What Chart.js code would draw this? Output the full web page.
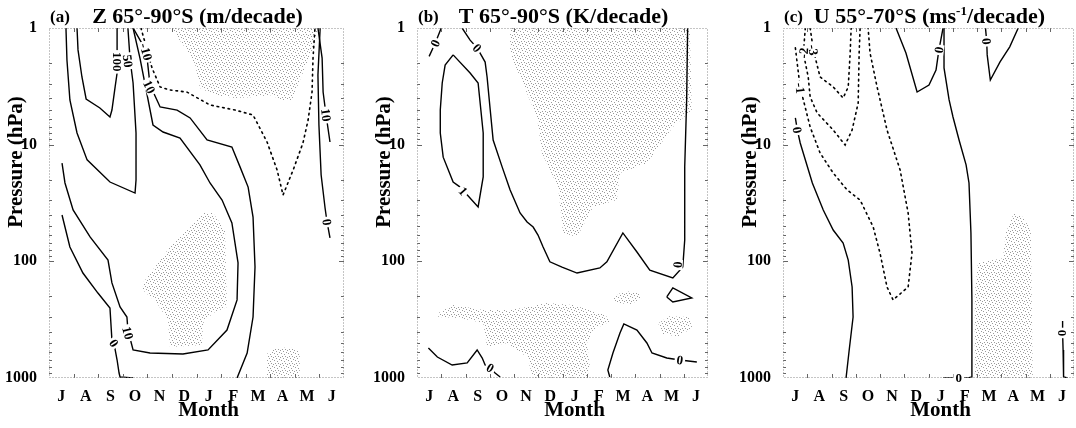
<!DOCTYPE html>
<html>
<head>
<meta charset="utf-8">
<script src="https://cdn.jsdelivr.net/npm/chart.js@4.4.1/dist/chart.umd.min.js"></script>
<style>
  body { margin: 0; background: #fff; }
  .panel { position: absolute; top: 0; height: 428px; }
</style>
</head>
<body>
<div class="panel" style="left:0"><canvas id="chartA" width="358" height="428"></canvas></div>
<div class="panel" style="left:358px"><canvas id="chartB" width="358" height="428"></canvas></div>
<div class="panel" style="left:716px"><canvas id="chartC" width="360" height="428"></canvas></div>
<script>
const months = ['J', 'A', 'S', 'O', 'N', 'D', 'J', 'F', 'M', 'A', 'M', 'J'];
const pressureTicks = [1, 10, 100, 1000];

// contours as [month position, hPa]
// (a) Z 65-90S
const zPos100 = [[1.14,1],[1.18,1.54],[1.34,2.63],[1.51,4.06],[2.07,4.85],[2.48,5.79],[2.56,5.05],[2.69,3.2],[2.77,2.43],[2.77,1.77],[2.77,1]];
const zPos50 = [[0.69,1],[0.73,1.88],[0.85,4.14],[1.14,7.94],[1.55,13.5],[2.48,20.9],[3.5,26],[3.54,20.1],[3.54,7.94],[3.42,2.96],[3.3,1.88],[3.21,1]];
const zPos10Outer = [[3.42,1],[3.82,1.4],[3.99,1.81],[4.11,3.08],[4.52,4.75],[5.21,5.05],[5.74,5.9],[6.43,9.12],[7.44,10.47],[7.77,15.5],[8.1,23.1],[8.3,41.7],[8.38,112],[8.3,300],[8.06,611],[7.65,1000]];
const zPos10Inner = [[3.42,1],[3.7,1.81],[4.23,6.78],[4.64,7.79],[5.33,8.77],[6.14,14.9],[6.55,21.3],[7.04,29.8],[7.44,46.9],[7.69,103],[7.65,214],[7.24,388],[6.47,575],[5.45,623],[4.11,611],[3.42,575],[3.21,388],[3.17,300],[2.89,246],[2.56,153],[2.4,97.5],[1.67,61.8],[0.98,36.3],[0.65,21.3],[0.53,14.4]];
const zLeft0 = [[0.53,40.1],[0.85,75.4],[1.38,126],[1.99,187],[2.48,251],[2.56,472],[2.64,501],[2.77,701],[2.85,906],[2.89,980],[3.42,1000]];
const zRight10 = [[10.94,1],[11.11,1.81],[11.15,3.54],[11.27,5.57],[11.43,9.49]];
const zRight0 = [[11.03,1],[10.94,2.53],[10.98,6.78],[11.07,18.2],[11.23,34.9],[11.31,46],[11.43,63]];
const zNeg10 = [[3.74,1],[3.99,1.54],[4.19,2.2],[4.52,3.2],[4.92,3.4],[5.61,3.54],[6.55,4.57],[7.57,5.05],[8.3,5.57],[8.87,9.49],[9.28,16.5],[9.52,27],[9.93,16.5],[10.33,9.68],[10.54,6.15],[10.7,3.54],[10.74,1.81],[10.82,1]];
const zStippleTop = [[5,1],[10.94,1],[10.86,1.27],[10.54,1.88],[10.21,2.79],[9.88,4.14],[9.52,4.14],[8.98,3.75],[8.38,3.9],[7.57,3.98],[6.75,3.75],[6.14,3.27],[5.94,2.04],[5.61,1.54],[5.25,1.22]];
const zStippleMid = [[3.82,153],[4.92,75.4],[5.61,53.9],[6.27,38.5],[6.67,38.5],[7.16,53.9],[7.24,246],[6.67,277],[6.27,338],[6.22,521],[4.92,542],[4.84,318],[4.39,228],[3.82,176]];
const zStippleLow = [[8.87,620],[9.2,560],[9.8,545],[10.2,600],[10.2,1000],[8.87,1000]];
const zLabels = [
  [zPos100, 2.77, 1.95, '100'], [zPos50, 3.21, 1.92, '50'], [zNeg10, 3.95, 1.6, '-10'],
  [zPos10Outer, 4.08, 3.2, '10'], [zPos10Inner, 3.21, 411, '10'], [zLeft0, 2.64, 501, '0'],
  [zRight10, 11.27, 5.57, '10'], [zRight0, 11.31, 46, '0']
];

// (b) T 65-90S
const tTop0 = [[0.5,1.75],[0.75,1.35],[1,1]];
const tMain0 = [[1.86,1],[2.19,1.27],[2.48,1.48],[2.81,1.96],[2.89,2.63],[3.02,5.05],[3.14,9.12],[3.51,15.5],[3.84,24.5],[4.25,38.5],[4.54,46],[4.79,50.8],[4.99,59.5],[5.2,75.4],[5.48,101],[5.98,112],[6.6,126],[7.54,114],[7.83,101],[8.49,57.1],[9.07,83.2],[9.6,119],[10.55,139],[10.96,112],[11.04,65.6],[11.04,15.5],[11.12,4.14],[11.16,1]];
const tLoop1 = [[1.49,1.7],[1.16,2.08],[1.04,2.96],[0.96,5.05],[0.96,7.94],[1.08,12.8],[1.49,20.9],[1.78,23.1],[2.0,26],[2.52,34.2],[2.73,18.9],[2.73,7.94],[2.52,2.96],[2.19,2.43],[1.49,1.7]];
const tTriangle = [[10.3,202],[10.55,169],[11.33,206],[10.55,223],[10.3,202]];
const tLowLeft0 = [[0.47,553],[0.84,661],[1.45,774],[2.07,743],[2.48,575],[2.69,674],[2.81,774],[3.02,821],[3.22,906],[3.43,980]];
const tLowMid0 = [[7.95,980],[7.87,854],[8.08,611],[8.37,411],[8.53,344],[9.07,388],[9.48,501],[9.69,611],[10.3,674],[10.84,701],[11.54,729]];
const tStippleTop = [[3.84,1],[11.25,1],[11.33,5.05],[10.55,7.06],[9.48,14.4],[8.37,17.5],[8.24,29.8],[7.26,34.2],[6.6,61.8],[6.02,57.1],[5.82,23.1],[5.15,11.8],[4.95,5.79],[4.25,2.63],[3.84,1.64]];
const tStippleA = [[8.1,205],[8.5,180],[9.1,185],[9.3,205],[8.8,235],[8.2,225]];
const tStippleB = [[9.95,340],[10.4,295],[11.2,300],[11.35,370],[10.8,440],[10.1,420]];
const tStippleLow = [[0.88,277],[1.49,237],[2.73,261],[3.84,261],[4.54,246],[5.36,228],[6.43,237],[7.54,277],[8.08,318],[7.66,351],[7.26,388],[7.01,501],[7.13,805],[7.01,1000],[4.79,1000],[4.54,661],[3.72,501],[2.89,542],[2.73,338],[1.78,306],[0.88,300]];
const tLabels = [
  [tTop0, 0.75, 1.35, '0'], [tMain0, 2.48, 1.48, '0'], [tLoop1, 1.9, 25, '1'],
  [tMain0, 10.75, 107, '0'], [tLowLeft0, 3.02, 821, '0'], [tLowMid0, 10.84, 701, '0']
];

// (c) U 55-70S
const uNeg3 = [[1.12,1],[1.25,1.54],[1.53,2.63],[2.07,3.2],[2.48,3.98],[2.69,3.2],[2.77,1.64],[2.81,1]];
const uNeg2 = [[0.92,1],[0.84,1.64],[1.04,2.63],[1.12,3.9],[1.41,5.35],[2.07,7.48],[2.56,10.07],[2.85,7.48],[3.1,4.39],[3.14,1.64],[3.18,1]];
const uNeg1 = [[0.51,1.48],[0.71,3.27],[0.84,4.14],[1.12,7.06],[1.53,11.8],[2.07,17.5],[2.65,24.5],[3.18,29.8],[3.72,50.8],[4,84.9],[4.29,166],[4.54,214],[5.16,166],[5.32,84.9],[5.16,38.5],[4.83,16.5],[4.29,7.48],[3.88,3.2],[3.59,1.64],[3.51,1]];
const uLeft0 = [[0.51,5.9],[0.59,7.48],[0.71,9.68],[1.21,21.3],[1.66,36.3],[2.07,53.9],[2.48,69.6],[2.69,97.5],[2.85,166],[2.89,300],[2.73,575],[2.6,1000]];
const uDec0 = [[4.66,1],[5.07,1.64],[5.53,3.54],[6.02,3.08],[6.31,2.29],[6.43,1.54],[6.6,1]];
const uJan0 = [[6.64,1],[6.64,2.2],[6.85,4.14],[7.01,5.79],[7.26,9.12],[7.55,14.9],[7.67,21.3],[7.75,57.1],[7.79,214],[7.79,980],[7.63,1000],[6.6,1000]];
const uMar0 = [[8.35,1],[8.4,1.3],[8.42,1.7],[8.55,2.79],[8.95,1.95],[9.35,1.45],[9.7,1]];
const uJun0 = [[11.53,325],[11.53,411],[11.55,575],[11.57,980],[11.74,1000]];
const uStipple = [[7.91,1000],[7.91,187],[8.04,103],[9.07,94],[9.19,57],[9.52,38.5],[9.89,41.7],[10.22,54],[10.3,1000]];
const uLabels = [
  [uNeg3, 1.25, 1.54, '-3'], [uNeg2, 0.84, 1.64, '-2'], [uNeg1, 0.71, 3.27, '-1'],
  [uLeft0, 0.59, 7.48, '0'], [uDec0, 6.43, 1.54, '0'], [uJan0, 7.25, 1000, '0'],
  [uMar0, 8.4, 1.3, '0'], [uJun0, 11.53, 411, '0']
];

const serif = '"Liberation Serif", "Times New Roman", serif';

function makeStipple() {
  const c = document.createElement('canvas');
  c.width = 7; c.height = 7;
  const g = c.getContext('2d');
  g.fillStyle = '#9a9a9a';
  [[0,0],[3,1],[6,2],[1,3],[4,4],[2,6],[5,6]].forEach(([i, j]) => g.fillRect(i, j, 1, 1));
  return g.createPattern(c, 'repeat');
}
const stipple = makeStipple();

function solid(data) {
  return { data, borderColor: '#000', borderWidth: 1.4, pointRadius: 0, fill: false, order: 1 };
}
function dotted(data) {
  return { data, borderColor: '#000', borderWidth: 1.6, borderDash: [1.6, 4], borderCapStyle: 'round', pointRadius: 0, fill: false, order: 1 };
}
function shaded(data) {
  return { data, borderColor: 'rgba(0,0,0,0)', borderWidth: 0, backgroundColor: stipple, pointRadius: 0, fill: 'shape', order: 2 };
}

const framePlugin = {
  id: 'frame',
  afterDatasetsDraw(chart) {
    const { ctx, chartArea: a, scales: { x, y } } = chart;
    ctx.save();
    ctx.strokeStyle = '#666';
    ctx.lineWidth = 1;
    ctx.beginPath();
    for (let m = 1; m < 12; m++) {
      const px = Math.round(x.getPixelForValue(m)) + 0.5;
      ctx.moveTo(px, a.bottom); ctx.lineTo(px, a.bottom - 4);
      ctx.moveTo(px, a.top); ctx.lineTo(px, a.top + 4);
    }
    for (let d = 1; d < 1000; d *= 10) {
      for (let k = 1; k < 10; k++) {
        const v = d * k;
        if (v === 1) continue;
        const py = Math.round(y.getPixelForValue(v)) + 0.5;
        const len = k === 1 ? 5 : 3;
        ctx.moveTo(a.left, py); ctx.lineTo(a.left + len, py);
        ctx.moveTo(a.right, py); ctx.lineTo(a.right - len, py);
      }
    }
    ctx.stroke();
    ctx.setLineDash([1, 2]);
    ctx.strokeStyle = '#8a8a8a';
    ctx.strokeRect(a.left + 0.5, a.top + 0.5, a.right - a.left - 1, a.bottom - a.top - 1);
    ctx.restore();
  }
};

const labelPlugin = {
  id: 'contourLabels',
  afterDatasetsDraw(chart, args, opts) {
    const { ctx, scales: { x, y } } = chart;
    ctx.save();
    ctx.font = 'bold 13px ' + serif;
    ctx.textAlign = 'center';
    ctx.textBaseline = 'middle';
    (opts.items || []).forEach(([line, lx, lp, text]) => {
      const px = x.getPixelForValue(lx), py = y.getPixelForValue(lp);
      // direction of the nearest segment of its contour
      let best = Infinity, ang = 0;
      for (let i = 0; i < line.length - 1; i++) {
        const x1 = x.getPixelForValue(line[i][0]), y1 = y.getPixelForValue(line[i][1]);
        const x2 = x.getPixelForValue(line[i + 1][0]), y2 = y.getPixelForValue(line[i + 1][1]);
        const dx = x2 - x1, dy = y2 - y1;
        const l2 = dx * dx + dy * dy || 1;
        const t = Math.max(0, Math.min(1, ((px - x1) * dx + (py - y1) * dy) / l2));
        const d = Math.hypot(px - x1 - t * dx, py - y1 - t * dy);
        if (d < best) { best = d; ang = Math.atan2(dy, dx); }
      }
      if (ang > Math.PI / 2 + 0.01) ang -= Math.PI;
      if (ang <= -Math.PI / 2 + 0.01) ang += Math.PI;
      const w = ctx.measureText(text).width;
      ctx.save();
      ctx.translate(px, py);
      ctx.rotate(ang);
      ctx.fillStyle = '#fff';
      ctx.fillRect(-w / 2 - 2, -5, w + 4, 10);
      ctx.fillStyle = '#000';
      ctx.fillText(text, 0, 1);
      ctx.restore();
    });
    ctx.restore();
  }
};

// title parts: even index normal, odd index superscript
const textPlugin = {
  id: 'panelText',
  afterDraw(chart, args, opts) {
    const { ctx, chartArea: a } = chart;
    const cx = (a.left + a.right) / 2;
    const big = 'bold 22px ' + serif, small = 'bold 13px ' + serif;
    ctx.save();
    ctx.fillStyle = '#000';
    ctx.textBaseline = 'alphabetic';
    ctx.font = 'bold 17px ' + serif;
    ctx.textAlign = 'left';
    ctx.fillText(opts.tag, a.left + 1, 22);
    let total = 0;
    opts.title.forEach((t, i) => { ctx.font = i % 2 ? small : big; total += ctx.measureText(t).width; });
    let tx = cx + 1 - total / 2;
    opts.title.forEach((t, i) => {
      ctx.font = i % 2 ? small : big;
      ctx.fillText(t, tx, i % 2 ? 15 : 23);
      tx += ctx.measureText(t).width;
    });
    ctx.textAlign = 'center';
    ctx.font = 'bold 21px ' + serif;
    ctx.fillText('Month', cx + 12, 416);
    ctx.translate(a.left - 32, 162);
    ctx.rotate(-Math.PI / 2);
    ctx.textBaseline = 'middle';
    ctx.fillText('Pressure (hPa)', 0, 0);
    ctx.restore();
  }
};

function makeChart(canvasId, axisWidth, padRight, tag, title, solidLines, dottedLines, shades, labels) {
  const datasets = [
    ...shades.map(shaded),
    ...solidLines.map(solid),
    ...dottedLines.map(dotted)
  ];
  return new Chart(document.getElementById(canvasId), {
    type: 'line',
    data: { datasets },
    options: {
      responsive: false,
      animation: false,
      events: [],
      layout: { padding: { left: 0, right: padRight, top: 28, bottom: 0 } },
      elements: { line: { tension: 0 } },
      plugins: {
        legend: { display: false },
        tooltip: { enabled: false },
        contourLabels: { items: labels },
        panelText: { tag, title }
      },
      scales: {
        x: {
          type: 'linear', min: 0, max: 12,
          grid: { display: false }, border: { display: false },
          afterBuildTicks: s => { s.ticks = months.map((m, i) => ({ value: i + 0.5 })); },
          afterFit: s => { s.height = 50; },
          ticks: {
            autoSkip: false, maxRotation: 0, padding: 1, color: '#000',
            font: { family: serif, size: 16, weight: 'bold' },
            callback: v => months[Math.floor(v)]
          }
        },
        y: {
          type: 'logarithmic', reverse: true, min: 1, max: 1000,
          grid: { display: false }, border: { display: false },
          afterBuildTicks: s => { s.ticks = pressureTicks.map(v => ({ value: v })); },
          afterFit: s => { s.width = axisWidth; },
          ticks: {
            padding: 4, color: '#000',
            font: { family: serif, size: 16, weight: 'bold' },
            callback: v => String(v)
          }
        }
      }
    },
    plugins: [framePlugin, labelPlugin, textPlugin]
  });
}

makeChart('chartA', 49, 14, '(a)', ['Z 65°-90°S (m/decade)'],
  [zPos100, zPos50, zPos10Outer, zPos10Inner, zLeft0, zRight10, zRight0],
  [zNeg10],
  [zStippleTop, zStippleMid, zStippleLow],
  zLabels);

makeChart('chartB', 59, 8, '(b)', ['T 65°-90°S (K/decade)'],
  [tTop0, tMain0, tLoop1, tTriangle, tLowLeft0, tLowMid0],
  [],
  [tStippleTop, tStippleA, tStippleB, tStippleLow],
  tLabels);

makeChart('chartC', 67, 2, '(c)', ['U 55°-70°S (ms', '-1', '/decade)'],
  [uLeft0, uDec0, uJan0, uMar0, uJun0],
  [uNeg3, uNeg2, uNeg1],
  [uStipple],
  uLabels);
</script>
</body>
</html>
